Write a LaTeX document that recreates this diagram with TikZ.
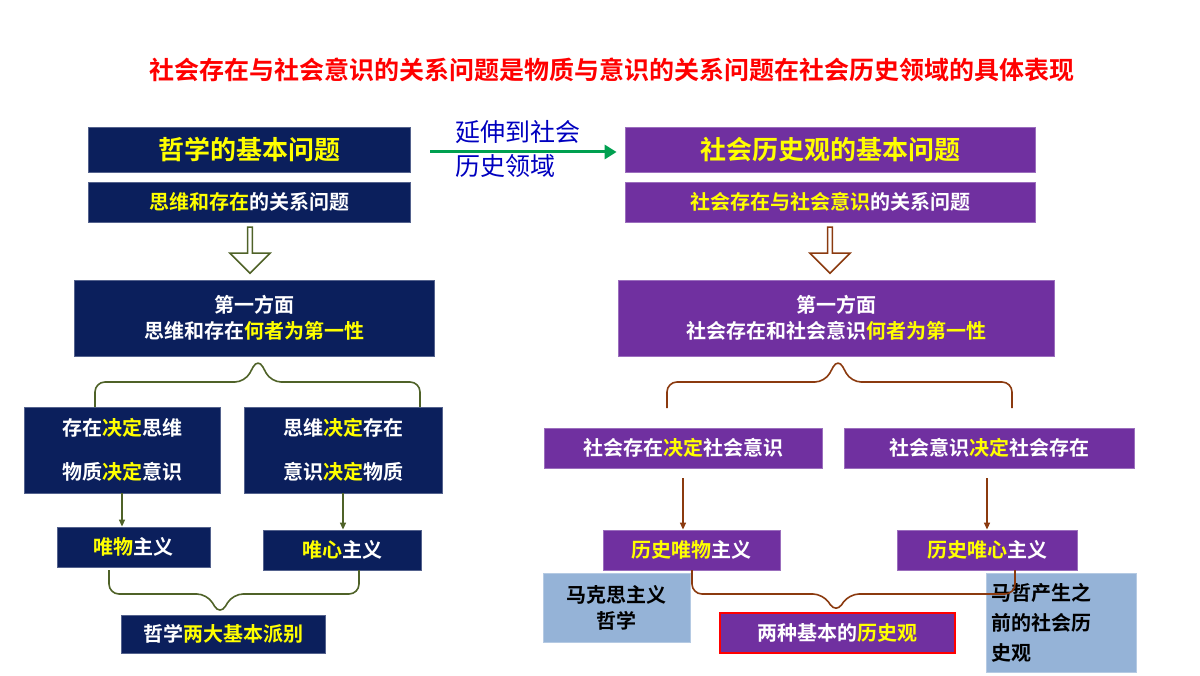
\documentclass[tikz,border=0pt]{standalone}
\usepackage{fontspec}
\setmainfont{Noto Sans CJK SC}[BoldFont={Noto Sans CJK SC Bold}]
\usetikzlibrary{arrows.meta,shapes.arrows}
\definecolor{navy}{HTML}{0B1F5C}
\definecolor{purp}{HTML}{7030A0}
\definecolor{olive}{HTML}{4F6228}
\definecolor{brn}{HTML}{8B3A0F}
\definecolor{ltb}{HTML}{95B3D7}
\definecolor{yel}{HTML}{FFFF00}
\definecolor{grn}{HTML}{00A050}
\begin{document}
\begin{tikzpicture}[x=1pt,y=-1pt,
 bx/.style={draw=#1!70!white,fill=#1,line width=0.8pt,inner sep=0pt,text=white,font=\bfseries\fontsize{20}{26}\selectfont,align=center},
 olbr/.style={draw=olive,line width=1.6pt,rounded corners=10pt},
 brbr/.style={draw=brn,line width=1.6pt,rounded corners=10pt},
 hol/.style={single arrow,shape border rotate=270,draw=#1,line width=1.6pt,fill=white,minimum height=46pt,minimum width=40pt,single arrow head extend=6pt,inner sep=0pt}]
\useasboundingbox (0,0) rectangle (1200,676);
\node (title) at (612,70) {\textcolor{red}{\bfseries\fontsize{25}{30}\selectfont 社会存在与社会意识的关系问题是物质与意识的关系问题在社会历史领域的具体表现}};
% left
\node[bx=navy,minimum width=322pt,minimum height=45pt] (l1) at (249,149.5) {\textcolor{yel}{\fontsize{26}{30}\selectfont 哲学的基本问题}};
\node[bx=navy,minimum width=322pt,minimum height=40pt] (l2) at (249,202) {\textcolor{yel}{思维和存在}的关系问题};
\node[hol=olive] (la) at (250,249) {};
\node[bx=navy,minimum width=360pt,minimum height=76pt] (l3) at (254,318) {第一方面\\思维和存在\textcolor{yel}{何者为第一性}};
\node[bx=navy,minimum width=196pt,minimum height=86pt,font=\bfseries\fontsize{20}{44}\selectfont] (l4) at (122,450) {存在\textcolor{yel}{决定}思维\\物质\textcolor{yel}{决定}意识};
\node[bx=navy,minimum width=198pt,minimum height=86pt,font=\bfseries\fontsize{20}{44}\selectfont] (l5) at (343,450) {思维\textcolor{yel}{决定}存在\\意识\textcolor{yel}{决定}物质};
\node[bx=navy,minimum width=153pt,minimum height=40pt] (l6) at (133.5,547) {\textcolor{yel}{唯物}主义};
\node[bx=navy,minimum width=158pt,minimum height=40pt] (l7) at (342,550) {\textcolor{yel}{唯心}主义};
\node[bx=navy,minimum width=204pt,minimum height=38pt] (l8) at (223,634) {哲学\textcolor{yel}{两大基本派别}};
\draw[olbr] (95,407) -- (95,382) -- (245,382) -- (258,358) -- (271,382) -- (420,382) -- (420,407);
\draw[olive,line width=1.4pt,-{Triangle[length=7pt,width=6pt]}] (l4.south) -- (l4.south|-l6.north);
\draw[olive,line width=1.4pt,-{Triangle[length=7pt,width=6pt]}] (l5.south) -- (l5.south|-l7.north);
\draw[olbr] (109,570) -- (109,594) -- (207,594) -- (220,615) -- (233,594) -- (359,594) -- (359,570);
% right
\node[bx=purp,minimum width=410pt,minimum height=45pt] (r1) at (830,149.5) {\textcolor{yel}{\fontsize{26}{30}\selectfont 社会历史观的基本问题}};
\node[bx=purp,minimum width=410pt,minimum height=40pt] (r2) at (830,202) {\textcolor{yel}{社会存在与社会意识}的关系问题};
\node[hol=brn] (ra) at (830,249) {};
\node[bx=purp,minimum width=436pt,minimum height=76pt] (r3) at (836,318) {第一方面\\社会存在和社会意识\textcolor{yel}{何者为第一性}};
\node[bx=purp,minimum width=278pt,minimum height=40pt] (r4) at (683,448) {社会存在\textcolor{yel}{决定}社会意识};
\node[bx=purp,minimum width=290pt,minimum height=40pt] (r5) at (989,448) {社会意识\textcolor{yel}{决定}社会存在};
\node[bx=purp,minimum width=177pt,minimum height=40pt] (r6) at (691.5,550) {\textcolor{yel}{历史唯物}主义};
\node[bx=purp,minimum width=180pt,minimum height=40pt] (r7) at (987,550) {\textcolor{yel}{历史唯心}主义};
\node[bx=ltb,text=black,minimum width=147pt,minimum height=69pt,font=\bfseries\fontsize{20}{26}\selectfont] (rb1) at (616.5,607.5) {马克思主义\\哲学};
\node[bx=ltb,text=black,minimum width=150pt,minimum height=99pt,align=left,text width=140pt,font=\bfseries\fontsize{20}{30}\selectfont] (rb2) at (1061,622.5) {马哲产生之\\前的社会历\\史观};
\draw[brbr] (667,408) -- (667,382) -- (825,382) -- (838,358) -- (851,382) -- (1012,382) -- (1012,408);
\draw[brn,line width=1.4pt,-{Triangle[length=7pt,width=6pt]}] ([yshift=-10pt]r4.south) -- (r4.south|-r6.north);
\draw[brn,line width=1.4pt,-{Triangle[length=7pt,width=6pt]}] ([yshift=-10pt]r7.north|-r5.south) -- (r7.north);
\draw[brbr] (692,570) -- (692,594) -- (823,594) -- (836,613) -- (849,594) -- (1015,594) -- (1015,570);
\node[bx=purp,draw=red,line width=1.2pt,minimum width=235pt,minimum height=40pt] (r8) at (837.5,633) {两种基本的\textcolor{yel}{历史观}};
% middle
\draw[grn,line width=3pt,-{Triangle[length=12pt,width=14pt]}] ([xshift=20pt,yshift=-2.5pt]l1.east) -- ([xshift=-8pt,yshift=-2.5pt]r1.west);
\node[text=blue!75!black,font=\fontsize{25}{34}\selectfont,align=left] (mid) at (518,149) {延伸到社会\\历史领域};
\end{tikzpicture}
\end{document}
